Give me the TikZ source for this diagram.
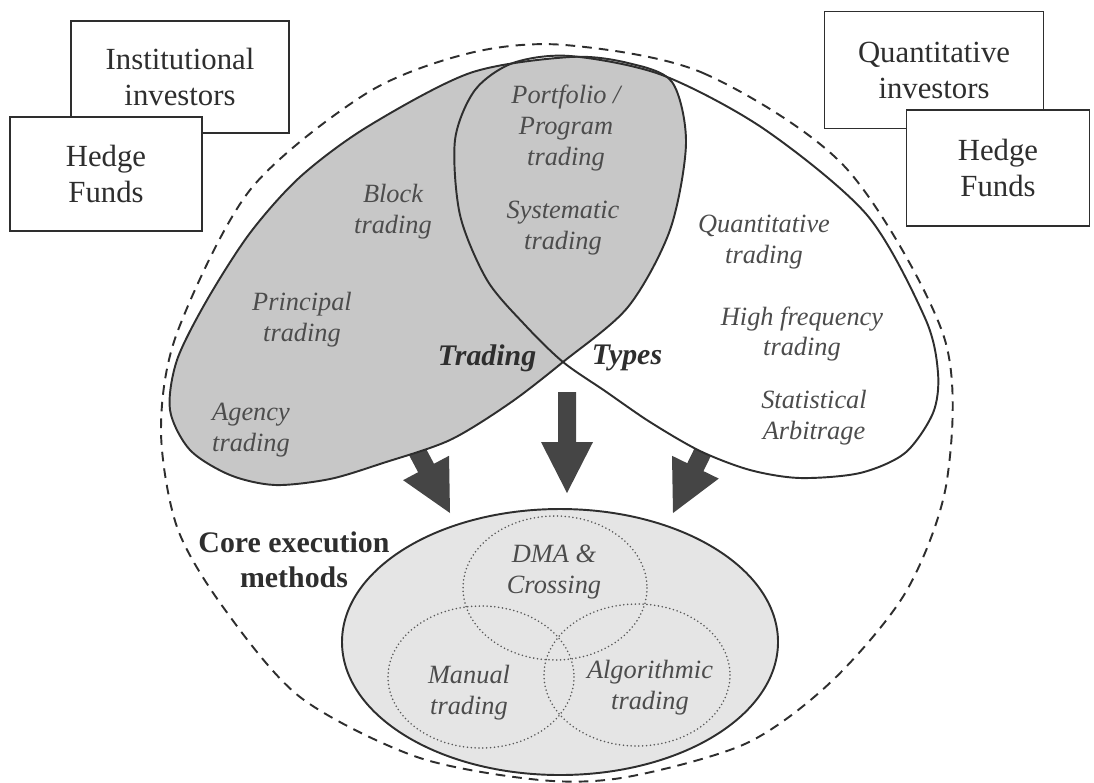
\documentclass[tikz,border=0pt]{standalone}
\usepackage{fontspec}
\setmainfont{Liberation Serif}
\definecolor{inkgray}{gray}{0.18}
\definecolor{labelgray}{gray}{0.3}
\definecolor{tradefill}{gray}{0.78}
\definecolor{corefill}{gray}{0.9}
\definecolor{arrowgray}{gray}{0.27}
% block arrow: tip, angle, shaft end
\newcommand{\blockarrow}[3]{%
  \fill[arrowgray, shift={(#1)}, rotate=#2] (0,0) -- (-51,26) -- (-51,9) -- (-#3,9) -- (-#3,-9) -- (-51,-9) -- (-51,-26) -- cycle;}
\begin{document}
\begin{tikzpicture}[x=0.02cm, y=-0.02cm,
    investorbox/.style={draw=inkgray, line width=0.9pt, fill=white, align=center,
      font=\fontsize{17.5}{20.5}\selectfont, text=inkgray},
    tradelabel/.style={align=center, font=\fontsize{15}{17.5}\selectfont\itshape, text=labelgray},
    headlabel/.style={font=\fontsize{17}{20}\selectfont\bfseries\itshape, text=inkgray},
    lobe/.style={draw=inkgray, line width=1.1pt},
    methodring/.style={draw=black!65, line width=1pt, line cap=round, dash pattern=on 0pt off 2.2pt}]
  \useasboundingbox (0,0) rectangle (1094,782);

  % outer dashed boundary
  \draw[inkgray, line width=1.1pt, dash pattern=on 5.5pt off 4pt] plot[smooth cycle] coordinates {
    (565,45) (703,73) (846,168) (944,337) (947,480) (907,590) (833,680) (747,743)
    (627,777) (540,780) (417,757) (300,697) (223,607) (177,527) (161,430) (177,333)
    (250,190) (367,93) (470,53)};

  % arrows
  \blockarrow{450,513}{-62}{95}
  \blockarrow{567,493}{-90}{101}
  \blockarrow{673,513}{-116}{95}

  % trading types lobes
  \fill[white] plot[smooth cycle] coordinates {
    (563,362) (605,391) (650,422) (700,451) (750,470) (800,478) (860,473) (905,453)
    (933,413) (938,373) (925,318) (867,215) (764,129) (662,75) (570,56) (513,63)
    (475,90) (455,140) (460,215) (487,280) (525,325)};
  \fill[tradefill] plot[smooth cycle] coordinates {
    (563,362) (628,307) (670,230) (686,143) (672,82) (628,63) (570,57) (470,73)
    (367,127) (300,177) (250,233) (207,300) (177,360) (170,410) (190,450) (230,475)
    (275,485) (330,479) (383,463) (450,440) (510,403)};
  \draw[lobe] plot[smooth cycle] coordinates {
    (563,362) (628,307) (670,230) (686,143) (672,82) (628,63) (570,57) (470,73)
    (367,127) (300,177) (250,233) (207,300) (177,360) (170,410) (190,450) (230,475)
    (275,485) (330,479) (383,463) (450,440) (510,403)};
  \draw[lobe] plot[smooth cycle] coordinates {
    (563,362) (605,391) (650,422) (700,451) (750,470) (800,478) (860,473) (905,453)
    (933,413) (938,373) (925,318) (867,215) (764,129) (662,75) (570,56) (513,63)
    (475,90) (455,140) (460,215) (487,280) (525,325)};

  % core execution methods
  \draw[lobe, fill=corefill] (560,642) ellipse (218 and 133);
  \draw[methodring] (555,588) ellipse (92 and 72);
  \draw[methodring] (481,677) ellipse (93 and 71);
  \draw[methodring] (637,675) ellipse (93 and 71);

  % investors
  \node[investorbox, minimum width=4.36cm, minimum height=2.24cm] (inst) at (180,77) {Institutional\\investors};
  \node[investorbox, minimum width=3.84cm, minimum height=2.28cm] (hfleft) at (106,174) {Hedge\\Funds};
  \node[investorbox, minimum width=4.38cm, minimum height=2.34cm] (quantinv) at (934,70) {Quantitative\\investors};
  \node[investorbox, minimum width=3.66cm, minimum height=2.32cm] (hfright) at (998,168) {Hedge\\Funds};

  % labels
  \node[tradelabel] (block) at (393,212) {Block\\trading};
  \node[tradelabel] (principal) at (302,320) {Principal\\trading};
  \node[tradelabel] (agency) at (251,430) {Agency\\trading};
  \node[tradelabel] (portfolio) at (566,128) {Portfolio /\\Program\\trading};
  \node[tradelabel] (systematic) at (563,228) {Systematic\\trading};
  \node[tradelabel] (quant) at (764,242) {Quantitative\\trading};
  \node[tradelabel] (hft) at (802,334) {High frequency\\trading};
  \node[tradelabel] (statarb) at (814,418) {Statistical\\Arbitrage};
  \node[headlabel] (trading) at (487,358) {Trading};
  \node[headlabel] (types) at (627,358) {Types};
  \node[align=center, font=\fontsize{17}{20}\selectfont\bfseries, text=inkgray] (core) at (294,560) {Core execution\\methods};
  \node[tradelabel] (dma) at (554,572) {DMA \&\\Crossing};
  \node[tradelabel] (manual) at (469,693) {Manual\\trading};
  \node[tradelabel] (algo) at (650,688) {Algorithmic\\trading};
\end{tikzpicture}
\end{document}
